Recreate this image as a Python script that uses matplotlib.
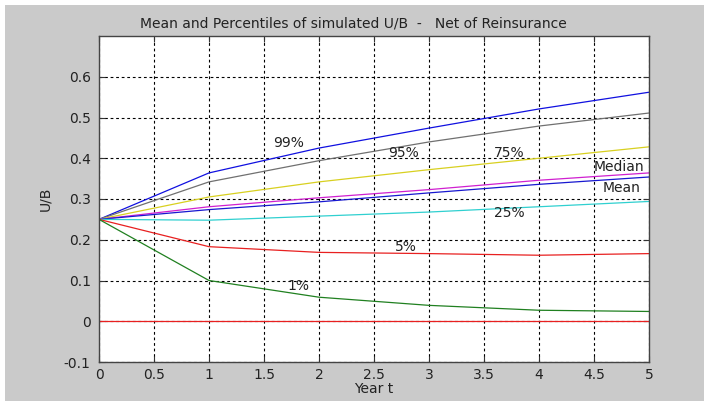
import matplotlib
matplotlib.use("Agg")
import matplotlib.pyplot as plt
from matplotlib.patches import Rectangle

# simulated U/B paths, net of reinsurance
years = [0, 1, 2, 3, 4, 5]
p99 = [0.25, 0.364, 0.425, 0.474, 0.521, 0.562]
p95 = [0.25, 0.342, 0.394, 0.440, 0.479, 0.511]
p75 = [0.25, 0.305, 0.342, 0.372, 0.400, 0.428]
median = [0.25, 0.281, 0.303, 0.323, 0.346, 0.364]
mean = [0.25, 0.274, 0.293, 0.315, 0.336, 0.354]
p25 = [0.25, 0.248, 0.258, 0.268, 0.281, 0.294]
p5 = [0.25, 0.183, 0.169, 0.166, 0.162, 0.166]
p1 = [0.25, 0.100, 0.059, 0.039, 0.027, 0.024]
zero_line = [0, 0, 0, 0, 0, 0]

xticks = [0, 0.5, 1, 1.5, 2, 2.5, 3, 3.5, 4, 4.5, 5]
yticks = [-0.1, 0, 0.1, 0.2, 0.3, 0.4, 0.5, 0.6]

plt.rcParams["font.family"] = ["DejaVu Sans"]
plt.rcParams["font.size"] = 10

fig = plt.figure(figsize=(7.04, 4.03), dpi=100, facecolor="white")
# grey figure panel, leaving a thin white border
fig.patches.append(Rectangle((5 / 704, 2 / 403), 1, 396 / 403, transform=fig.transFigure,
                             facecolor="#cacaca", edgecolor="none", zorder=-10))

ax = fig.add_axes([99 / 704, 1 - 362 / 403, 550 / 704, 326 / 403])
ax.set_facecolor("white")

series = [
    (p99, "#1010e0"),
    (p95, "#707070"),
    (p75, "#d8d020"),
    (median, "#d020d0"),
    (mean, "#1818d0"),
    (p25, "#30d0d0"),
    (p5, "#e82020"),
    (p1, "#208020"),
    (zero_line, "#e82020"),
]
for vals, col in series:
    ax.plot(years, vals, color=col, linewidth=0.9)

labels = [
    ("99%", 1.72, 0.437),
    ("95%", 2.77, 0.413),
    ("75%", 3.73, 0.413),
    ("Median", 4.73, 0.379),
    ("Mean", 4.75, 0.328),
    ("25%", 3.73, 0.266),
    ("5%", 2.79, 0.183),
    ("1%", 1.81, 0.086),
]
for txt, x, y in labels:
    ax.text(x, y, txt, ha="center", va="center", color="#222222", fontsize=10)

ax.set_xlim(0, 5)
ax.set_ylim(-0.1, 0.7)
ax.set_xticks(xticks)
ax.set_xticklabels([f"{t:g}" for t in xticks])
ax.set_yticks(yticks)
ax.set_yticklabels([f"{t:g}" for t in yticks])
ax.tick_params(direction="in", length=4, top=True, right=True, colors="#333333",
               labelcolor="#222222")
ax.tick_params(axis="x", pad=4)
ax.tick_params(axis="y", pad=6)
for sp in ax.spines.values():
    sp.set_color("#444444")
    sp.set_linewidth(1.0)
ax.grid(True, color="black", linestyle=(0, (2.5, 2.5)), linewidth=0.8)

ax.set_title("Mean and Percentiles of simulated U/B  -   Net of Reinsurance",
             fontsize=10, color="#222222", pad=6, x=0.462)
ax.set_xlabel("Year t", color="#222222", labelpad=0)
ax.set_ylabel("U/B", color="#222222", labelpad=8)

fig.savefig("out.png", dpi=100, facecolor=fig.get_facecolor())
